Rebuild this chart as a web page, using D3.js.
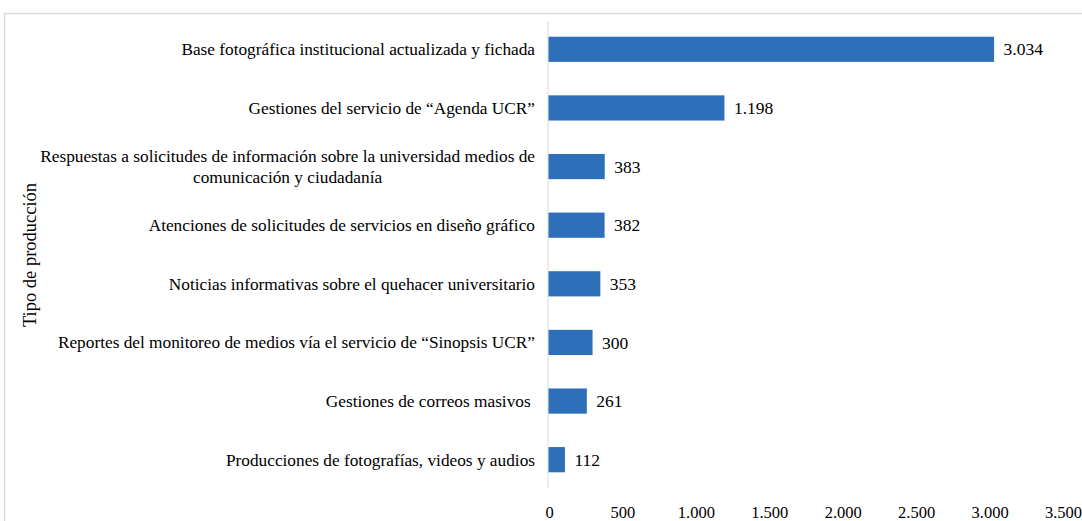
<!DOCTYPE html>
<html><head><meta charset="utf-8">
<script src="https://cdn.jsdelivr.net/npm/d3@7"></script>
<style>body{margin:0;background:#fff}svg{display:block}text{white-space:pre}</style>
</head><body>
<script>
const categories = [
  "Base fotográfica institucional actualizada y fichada",
  "Gestiones del servicio de “Agenda UCR”",
  "Respuestas a solicitudes de información sobre la universidad medios de|comunicación y ciudadanía",
  "Atenciones de solicitudes de servicios en diseño gráfico",
  "Noticias informativas sobre el quehacer universitario",
  "Reportes del monitoreo de medios vía el servicio de “Sinopsis UCR”",
  "Gestiones de correos masivos ",
  "Producciones de fotografías, videos y audios"
];
const values = [3034, 1198, 383, 382, 353, 300, 261, 112];
const valueLabels = ["3.034", "1.198", "383", "382", "353", "300", "261", "112"];
const tickValues = [0, 500, 1000, 1500, 2000, 2500, 3000, 3500];
const tickLabels = ["0", "500", "1.000", "1.500", "2.000", "2.500", "3.000", "3.500"];
const axisTitle = "Tipo de producción";

const W = 1082, H = 521;
const svg = d3.select("body").append("svg").attr("width", W).attr("height", H);
const font = "'Liberation Serif', 'Times New Roman', serif";

// chart border
svg.append("path").attr("d", `M4.5,${H} L4.5,13.5 L${W},13.5`)
  .attr("fill", "none").attr("stroke", "#d9d9d9").attr("stroke-width", 1.5);

const x = d3.scaleLinear().domain([0, 3500]).range([548, 1062]);
const y = d3.scaleBand().domain(d3.range(categories.length)).range([20, 489]).paddingInner(0.57).paddingOuter(0.285);

// axis line
svg.append("line").attr("x1", x(0)).attr("x2", x(0)).attr("y1", 21).attr("y2", 488)
  .attr("stroke", "#d9d9d9").attr("stroke-width", 1);

// bars
svg.selectAll("rect.bar").data(values).join("rect")
  .attr("class", "bar")
  .attr("x", x(0) + 0.5)
  .attr("y", (d, i) => y(i))
  .attr("width", d => x(d) - x(0))
  .attr("height", y.bandwidth())
  .attr("fill", "#2e6fb9");

// value labels
svg.selectAll("text.val").data(values).join("text")
  .attr("class", "val")
  .attr("x", d => x(d) + 10)
  .attr("y", (d, i) => y(i) + y.bandwidth() / 2)
  .attr("dy", "0.35em")
  .attr("font-family", font).attr("font-size", 17.5).attr("fill", "#000")
  .text((d, i) => valueLabels[i]);

// category labels
const catSize = 17.3;
categories.forEach((c, i) => {
  const lines = c.split("|");
  const cy = y(i) + y.bandwidth() / 2;
  if (lines.length === 1) {
    svg.append("text").attr("x", 535).attr("y", cy).attr("dy", "0.35em")
      .attr("text-anchor", "end").attr("font-family", font).attr("font-size", catSize)
      .attr("fill", "#000").text(lines[0]);
  } else {
    const g = svg.append("text").attr("font-family", font).attr("font-size", catSize).attr("fill", "#000");
    const t1 = g.append("tspan").attr("y", cy - 10.5).attr("dy", "0.35em").text(lines[0]);
    const w1 = t1.node().getComputedTextLength();
    const cx = 535 - w1 / 2;
    t1.attr("x", cx).attr("text-anchor", "middle");
    g.append("tspan").attr("x", cx).attr("y", cy + 10.5).attr("dy", "0.35em").attr("text-anchor", "middle").text(lines[1]);
  }
});

// x tick labels
svg.selectAll("text.tick").data(tickValues).join("text")
  .attr("class", "tick")
  .attr("x", d => x(d) + 1.5).attr("y", 512).attr("dy", "0.35em")
  .attr("text-anchor", "middle").attr("font-family", font).attr("font-size", 16.5).attr("fill", "#000")
  .text((d, i) => tickLabels[i]);

// axis title
svg.append("text").attr("transform", "translate(30,255) rotate(-90)")
  .attr("text-anchor", "middle").attr("dy", "0.35em")
  .attr("font-family", font).attr("font-size", 18.5).attr("fill", "#000")
  .text(axisTitle);
</script>
</body></html>
